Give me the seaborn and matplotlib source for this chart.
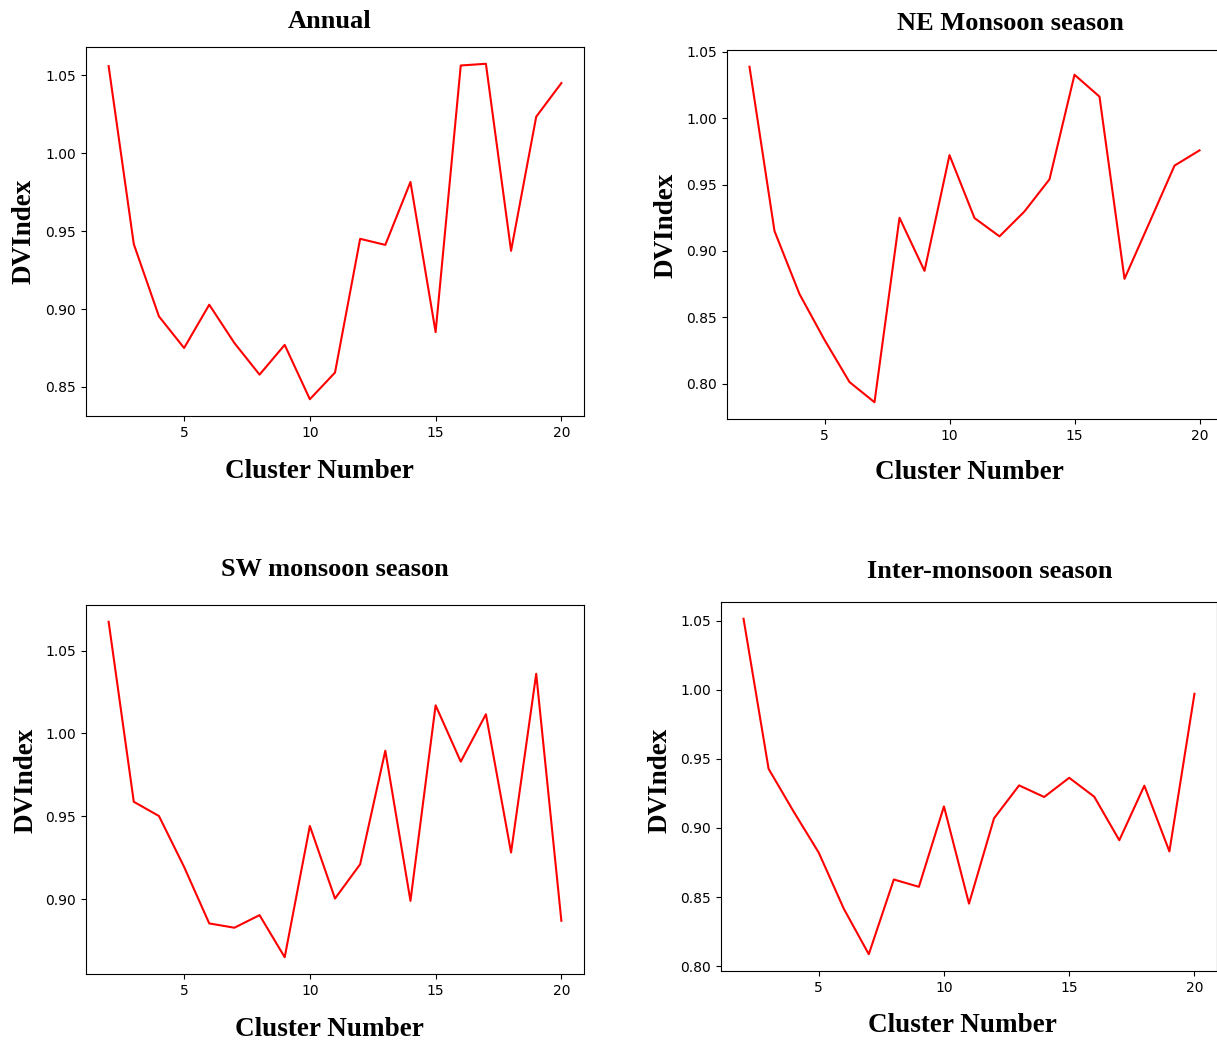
import numpy as np
import pandas as pd
import matplotlib
matplotlib.use("Agg")
import matplotlib.pyplot as plt
from matplotlib.ticker import MultipleLocator
import seaborn as sns

clusters = list(range(2, 21))

annual = [1.056, 0.9417, 0.8953, 0.875, 0.9028, 0.8782, 0.8579, 0.877, 0.8421, 0.8592,
          0.9451, 0.9412, 0.9816, 0.8852, 1.0564, 1.0575, 0.9374, 1.0235, 1.0451]
ne_monsoon = [1.0388, 0.915, 0.8675, 0.833, 0.8012, 0.786, 0.925, 0.885, 0.9722, 0.9248,
              0.911, 0.9298, 0.954, 1.0328, 1.0163, 0.879, 0.9215, 0.9643, 0.9758]
sw_monsoon = [1.0674, 0.9588, 0.9502, 0.9195, 0.8854, 0.8828, 0.8904, 0.865, 0.9442, 0.9004,
              0.9211, 0.9896, 0.899, 1.017, 0.983, 1.0116, 0.9282, 1.036, 0.887]
inter_monsoon = [1.0514, 0.9428, 0.9118, 0.8822, 0.8416, 0.8086, 0.8627, 0.8574, 0.9156, 0.8452,
                 0.907, 0.9308, 0.9224, 0.9363, 0.9226, 0.8911, 0.9306, 0.883, 0.9971]

titles = ["Annual", "NE Monsoon season", "SW monsoon season", "Inter-monsoon season"]
series = [annual, ne_monsoon, sw_monsoon, inter_monsoon]
xlabel = "Cluster Number"
ylabel = "DVIndex"

W, H = 1217, 1040
fig = plt.figure(figsize=(W / 100, H / 100), dpi=100)

# axes boxes in pixels: left, right, top, bottom
boxes = [(86, 584, 47, 416), (727, 1222, 50, 419), (86, 584, 605, 974), (721, 1217, 602, 971)]
title_pos = [(330, 21), (1010, 24), (335, 569), (990, 572)]
xlabel_pos = [(319, 471), (969, 473), (329, 1029), (962, 1026)]
ylabel_pos = [(24, 231), (666, 225), (26, 780), (660, 780)]

serif = ["Liberation Serif", "DejaVu Serif"]

for i in range(4):
    l, r, t, b = boxes[i]
    ax = fig.add_axes([l / W, 1 - b / H, (r - l) / W, (b - t) / H])
    df = pd.DataFrame({"k": clusters, "v": series[i]})
    sns.lineplot(data=df, x="k", y="v", color="red", linewidth=1.5, ax=ax)
    ax.set_xlabel("")
    ax.set_ylabel("")
    ax.tick_params(labelsize=10)
    ax.set_xticks([5, 10, 15, 20])
    ax.yaxis.set_major_locator(MultipleLocator(0.05))
    tx, ty = title_pos[i]
    fig.text(tx / W, 1 - ty / H, titles[i], ha="center", va="center",
             fontsize=19, fontweight="bold", family=serif)
    xx, xy = xlabel_pos[i]
    fig.text(xx / W, 1 - xy / H, xlabel, ha="center", va="center",
             fontsize=19.5, fontweight="bold", family=serif)
    yx, yy = ylabel_pos[i]
    fig.text(yx / W, 1 - yy / H, ylabel, ha="center", va="center", rotation=90,
             fontsize=19.5, fontweight="bold", family=serif)

fig.savefig("out.png", dpi=100)
